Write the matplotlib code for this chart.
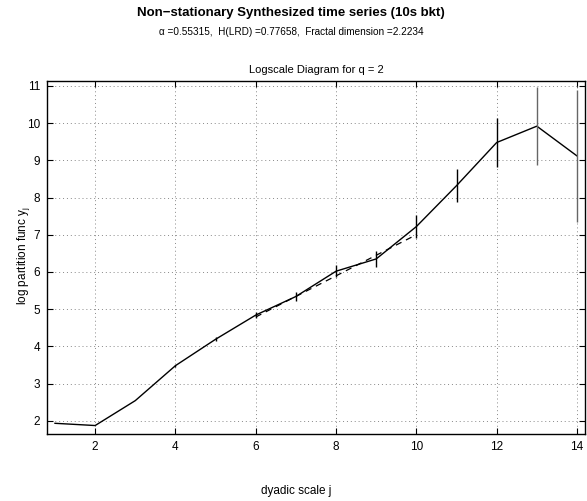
import matplotlib
matplotlib.use("Agg")
import matplotlib.pyplot as plt
import numpy as np

plt.rcParams['font.family'] = ['Liberation Sans', 'DejaVu Sans']

j = [1, 2, 3, 4, 5, 6, 7, 8, 9, 10, 11, 12, 13, 14]
yj = [1.93, 1.87, 2.54, 3.48, 4.19, 4.84, 5.34, 6.02, 6.35, 7.22, 8.32, 9.48, 9.92, 9.12]
err = [0.0, 0.0, 0.0, 0.03, 0.05, 0.07, 0.11, 0.16, 0.21, 0.30, 0.45, 0.67, 1.04, 1.78]
err_colors = ['black'] * 12 + ['#666666', '#666666']

fit_j = [6, 10]
alpha = 0.55315
intercept = 1.47
H = 0.77658
fd = 2.2234

fig = plt.figure(figsize=(5.87, 5.01), dpi=100)
ax = fig.add_axes([0.080, 0.1343, 0.9166, 0.7037])

ax.plot(j, yj, color='black', lw=1.0, zorder=3)
jv = np.array(j)
yv = np.array(yj)
ev = np.array(err)
mask = ev > 0
ax.vlines(jv[mask], (yv - ev)[mask], (yv + ev)[mask],
          colors=[c for c, m in zip(err_colors, mask) if m], lw=1.0, zorder=3)
fj = np.array(fit_j, dtype=float)
ax.plot(fj, alpha * fj + intercept, color='black', lw=0.9, ls=(0, (5, 4)), zorder=2)

ax.set_xlim(0.8, 14.2)
ax.set_ylim(1.65, 11.13)
ax.set_xticks([2, 4, 6, 8, 10, 12, 14])
ax.set_yticks(range(2, 12))
ax.tick_params(direction='in', top=True, right=True, labelsize=8.5, length=4, width=0.8, pad=5)
ax.grid(True, color='#888888', ls=(0, (1, 3)), lw=0.7)
for s in ax.spines.values():
    s.set_linewidth(1.0)

ax.set_title('Logscale Diagram for q = 2', fontsize=8, pad=6)
ax.set_ylabel(r'log partition func y$_\mathregular{j}$', fontsize=8.5)
ax.yaxis.set_label_coords(-0.028, 0.504)
ax.set_xlabel('dyadic scale j', fontsize=8.5)
ax.xaxis.set_label_coords(0.463, -0.145)

fig.text(0.496, 0.974, 'Non\u2212stationary Synthesized time series (10s bkt)',
         ha='center', va='center', fontsize=9.5, fontweight='bold')
fig.text(0.496, 0.936,
         '\u03b1 =%.5f,  H(LRD) =%.5f,  Fractal dimension =%.4f' % (alpha, H, fd),
         ha='center', va='center', fontsize=7.2)

fig.savefig('out.png', dpi=100)
